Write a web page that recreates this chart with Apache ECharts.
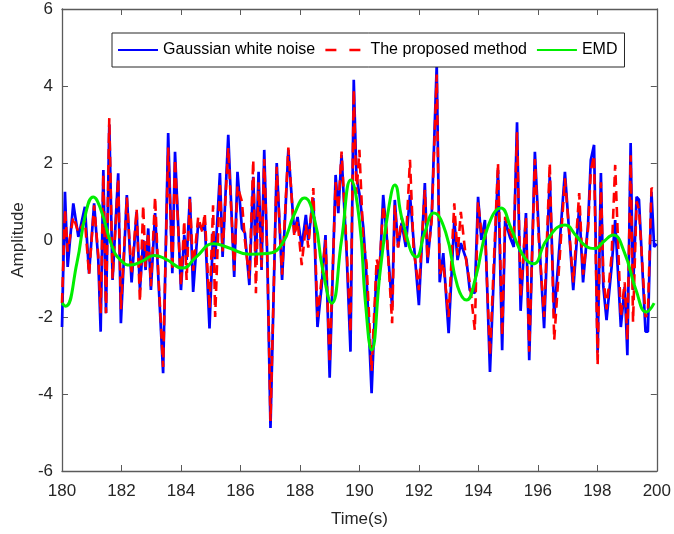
<!DOCTYPE html>
<html>
<head>
<meta charset="utf-8">
<script src="https://cdn.jsdelivr.net/npm/echarts@6/dist/echarts.min.js"></script>
<style>
  html, body { margin: 0; padding: 0; background: #fff; }
  #chart { width: 674px; height: 534px; }
</style>
</head>
<body>
<div id="chart"></div>
<script>
// Sample times (s) for the noise record and the reconstructed signal
const noiseTime = [
  180.0, 180.1, 180.19, 180.38, 180.55, 180.77, 180.91, 181.08, 181.22, 181.3,
  181.39, 181.48, 181.59, 181.7, 181.89, 181.98, 182.18, 182.34, 182.51, 182.62,
  182.73, 182.81, 182.9, 182.99, 183.13, 183.24, 183.4, 183.57, 183.71, 183.8,
  184.0, 184.11, 184.19, 184.3, 184.41, 184.58, 184.72, 184.8, 184.96, 185.08,
  185.15, 185.31, 185.4, 185.59, 185.79, 185.9, 186.05, 186.15, 186.3, 186.43,
  186.52, 186.61, 186.71, 186.8, 186.91, 187.01, 187.22, 187.4, 187.61, 187.81,
  187.92, 188.06, 188.2, 188.28, 188.45, 188.59, 188.73, 188.86, 189.0, 189.2,
  189.29, 189.4, 189.57, 189.7, 189.81, 189.9, 190.0, 190.13, 190.24, 190.41,
  190.58, 190.67, 190.8, 190.91, 191.1, 191.19, 191.3, 191.42, 191.56, 191.7,
  191.82, 192.0, 192.2, 192.29, 192.43, 192.6, 192.7, 192.82, 193.0, 193.19,
  193.3, 193.41, 193.6, 193.71, 193.88, 193.99, 194.1, 194.22, 194.39, 194.66,
  194.8, 194.9, 195.06, 195.19, 195.3, 195.42, 195.6, 195.71, 195.9, 196.04,
  196.21, 196.4, 196.55, 196.91, 197.19, 197.39, 197.52, 197.69, 197.78, 197.89,
  198.01, 198.12, 198.2, 198.31, 198.48, 198.6, 198.79, 198.92, 199.01, 199.12,
  199.2, 199.32, 199.4, 199.62, 199.7, 199.82, 199.91, 200.0
];

// Gaussian white noise amplitude
const noiseValues = [
  -2.26, 1.25, -0.7, 0.95, 0.08, 0.86, -0.87, 0.95, -0.52, -2.38,
  1.82, -1.9, 3.0, -1.04, 1.73, -2.16, 1.17, -1.1, 0.73, -1.3,
  0.0, -0.78, 0.3, -1.3, 0.7, -1.0, -3.46, 2.78, -0.86, 2.29,
  -1.3, 0.13, -0.52, 1.12, -1.35, 0.44, 0.26, 0.47, -2.3, 0.2,
  -0.5, 1.74, -0.44, 2.73, -0.96, 1.77, 0.3, 0.18, -1.17, 1.64,
  -0.52, 1.77, -0.78, 2.34, -0.7, -4.88, 2.0, -1.04, 2.34, 0.18,
  0.6, -0.18, 0.65, 0.0, 1.09, -2.26, -1.2, 0.13, -3.58, 1.69,
  0.7, 2.21, -0.34, -2.9, 4.16, 1.64, 1.2, 0.34, -0.96, -3.98,
  -0.7, -1.04, 1.17, 0.18, -1.74, 1.04, -0.18, 0.44, -0.18, 1.17,
  0.0, -1.69, 1.48, -0.6, 0.6, 4.55, -1.1, -0.34, -2.42, 0.52,
  -0.52, -0.08, -0.52, -1.3, -1.38, 1.12, 0.0, 0.52, -3.43, 1.82,
  -2.86, 0.5, 0.08, -0.18, 3.06, -1.84, 0.7, -3.12, 2.29, 0.08,
  -2.29, 1.64, -2.0, 1.77, -1.3, 0.86, -1.1, 0.44, 2.08, 2.47,
  -2.93, 1.74, -1.2, -2.08, -0.7, 0.52, -2.26, -1.22, -2.99, 2.52,
  -1.3, 1.12, 1.05, -2.38, -2.38, 1.25, -0.18, -0.1
];

// Output of the proposed method at the same sample times
const proposedValues = [
  -1.64, 0.8, -0.3, 0.6, 0.2, 0.5, -0.9, 0.9, -0.4, -1.9,
  1.7, -1.9, 3.17, -1.0, 1.6, -1.8, 1.1, -0.9, 0.8, -1.6,
  0.9, -0.7, 0.2, -1.2, 1.12, -0.9, -3.3, 2.4, -0.8, 2.1,
  -1.2, 0.5, -1.04, 1.1, -0.8, 0.6, 0.2, 0.7, -1.8, 0.9,
  -2.0, 1.5, -0.3, 2.4, -0.8, 1.4, 1.0, 0.0, -1.0, 2.08,
  -1.38, 1.5, -0.7, 2.1, -0.6, -4.7, 1.9, -0.9, 2.4, 0.1,
  0.5, -0.65, 0.4, -0.2, 1.35, -2.0, -1.0, 0.0, -3.2, 1.5,
  0.8, 2.3, -0.2, -2.4, 3.9, 1.2, 2.34, 0.0, -0.6, -3.4,
  -0.5, -0.8, 0.9, 0.3, -2.16, 0.9, -0.2, 0.6, -0.1, 2.08,
  -0.2, -1.3, 1.3, -0.5, 0.5, 4.3, -0.9, -0.6, -2.0, 0.95,
  -0.4, 0.73, -0.6, -1.1, -2.34, 1.0, 0.2, 0.3, -3.0, 2.0,
  -2.5, 0.6, 0.2, 0.0, 2.8, -1.5, 0.6, -2.9, 2.1, -0.1,
  -2.0, 2.0, -2.6, 1.6, -1.1, 1.22, -0.9, 0.3, 1.8, 2.2,
  -3.25, 1.5, -0.9, -1.8, -0.4, 1.95, -2.0, -1.1, -2.6, 2.2,
  -2.13, 1.0, 0.8, -2.0, -1.9, 1.35, 1.3, 1.3
];

// EMD result: slow oscillating component
const emdTime = [
  180.0, 180.12, 180.5, 180.8, 181.05, 181.3, 181.7, 182.0, 182.3, 182.7,
  183.1, 183.5, 184.05, 184.5, 185.1, 185.6, 186.3, 186.9, 187.4, 187.8,
  188.15, 188.5, 188.75, 189.07, 189.4, 189.71, 190.0, 190.2, 190.41, 190.7,
  191.0, 191.19, 191.45, 191.92, 192.2, 192.5, 192.9, 193.3, 193.6, 193.9,
  194.3, 194.76, 195.1, 195.5, 195.84, 196.3, 196.91, 197.3, 197.6, 197.92,
  198.2, 198.53, 198.9, 199.3, 199.65, 199.91
];
const emdValues = [
  -1.64, -1.72, -0.6, 0.7, 1.12, 0.8, -0.2, -0.55, -0.65, -0.55,
  -0.4, -0.5, -0.73, -0.45, -0.1, -0.2, -0.37, -0.35, -0.1, 0.65,
  1.09, 0.5, -0.7, -1.64, 0.0, 1.56, 0.5, -1.6, -2.86, -0.8,
  0.9, 1.43, 0.5, -0.44, 0.2, 0.7, 0.2, -1.2, -1.56, -1.0,
  0.3, 0.83, 0.3, -0.4, -0.62, 0.0, 0.39, 0.1, -0.15, -0.22,
  -0.05, 0.13, -0.3, -1.3, -1.87, -1.64
];

// Axis ticks
const xTicks = [180, 182, 184, 186, 188, 190, 192, 194, 196, 198, 200];
const yTicks = [-6, -4, -2, 0, 2, 4, 6];

const seriesNames = ['Gaussian white noise', 'The proposed method', 'EMD'];

const pairs = (xs, ys) => xs.map((x, i) => [x, ys[i]]);

const axisColor = '#5a5a5a';
const font = '"Liberation Sans", Arial, sans-serif';

const chart = echarts.init(document.getElementById('chart'), null, { renderer: 'canvas' });

const xStep = xTicks[1] - xTicks[0];
const yStep = yTicks[1] - yTicks[0];

const frameLine = { show: true, onZero: false, lineStyle: { color: axisColor, width: 1.3 } };
const frameTick = { show: true, inside: true, length: 6, lineStyle: { color: axisColor, width: 1 } };

chart.setOption({
  animation: false,
  backgroundColor: '#fff',
  grid: { left: 62, right: 17, top: 9, bottom: 63, containLabel: false },
  legend: {
    data: [
      { name: seriesNames[0] },
      { name: seriesNames[1], lineStyle: { type: [11, 13], width: 2.6 } },
      { name: seriesNames[2] }
    ],
    left: 112,
    top: 33,
    padding: [9, 7, 9, 5],
    itemGap: 9,
    itemWidth: 40,
    itemHeight: 14,
    borderColor: '#262626',
    borderWidth: 1,
    backgroundColor: '#fff',
    itemStyle: { opacity: 0 },
    textStyle: { fontFamily: font, fontSize: 16, color: '#000' }
  },
  xAxis: [
    {
      type: 'value', min: xTicks[0], max: xTicks[xTicks.length - 1], interval: xStep,
      position: 'bottom',
      axisLine: frameLine, axisTick: frameTick,
      axisLabel: { fontFamily: font, fontSize: 17, color: '#262626', margin: 12 },
      splitLine: { show: false },
      name: 'Time(s)', nameLocation: 'middle', nameGap: 40,
      nameTextStyle: { fontFamily: font, fontSize: 17, color: '#262626' }
    },
    {
      type: 'value', min: xTicks[0], max: xTicks[xTicks.length - 1], interval: xStep,
      position: 'top',
      axisLine: frameLine, axisTick: frameTick,
      axisLabel: { show: false },
      splitLine: { show: false }
    }
  ],
  yAxis: [
    {
      type: 'value', min: yTicks[0], max: yTicks[yTicks.length - 1], interval: yStep,
      position: 'left',
      axisLine: frameLine, axisTick: frameTick,
      axisLabel: { fontFamily: font, fontSize: 17, color: '#262626', margin: 9 },
      splitLine: { show: false },
      name: 'Amplitude', nameLocation: 'middle', nameGap: 32, nameRotate: 90,
      nameTextStyle: { fontFamily: font, fontSize: 17, color: '#262626' }
    },
    {
      type: 'value', min: yTicks[0], max: yTicks[yTicks.length - 1], interval: yStep,
      position: 'right',
      axisLine: frameLine, axisTick: frameTick,
      axisLabel: { show: false },
      splitLine: { show: false }
    }
  ],
  series: [
    {
      name: seriesNames[0], type: 'line', data: pairs(noiseTime, noiseValues),
      showSymbol: false, symbol: 'none',
      lineStyle: { color: '#0000ff', width: 2.7 }, itemStyle: { color: '#0000ff' }, z: 2
    },
    {
      name: seriesNames[1], type: 'line', data: pairs(noiseTime, proposedValues),
      showSymbol: false, symbol: 'none',
      lineStyle: { color: '#ff0000', width: 2.6, type: [10, 6] }, itemStyle: { color: '#ff0000' }, z: 3
    },
    {
      name: seriesNames[2], type: 'line', data: pairs(emdTime, emdValues),
      showSymbol: false, symbol: 'none', smooth: 0.5,
      lineStyle: { color: '#00ee00', width: 3 }, itemStyle: { color: '#00ee00' }, z: 4
    }
  ]
});
</script>
</body>
</html>
